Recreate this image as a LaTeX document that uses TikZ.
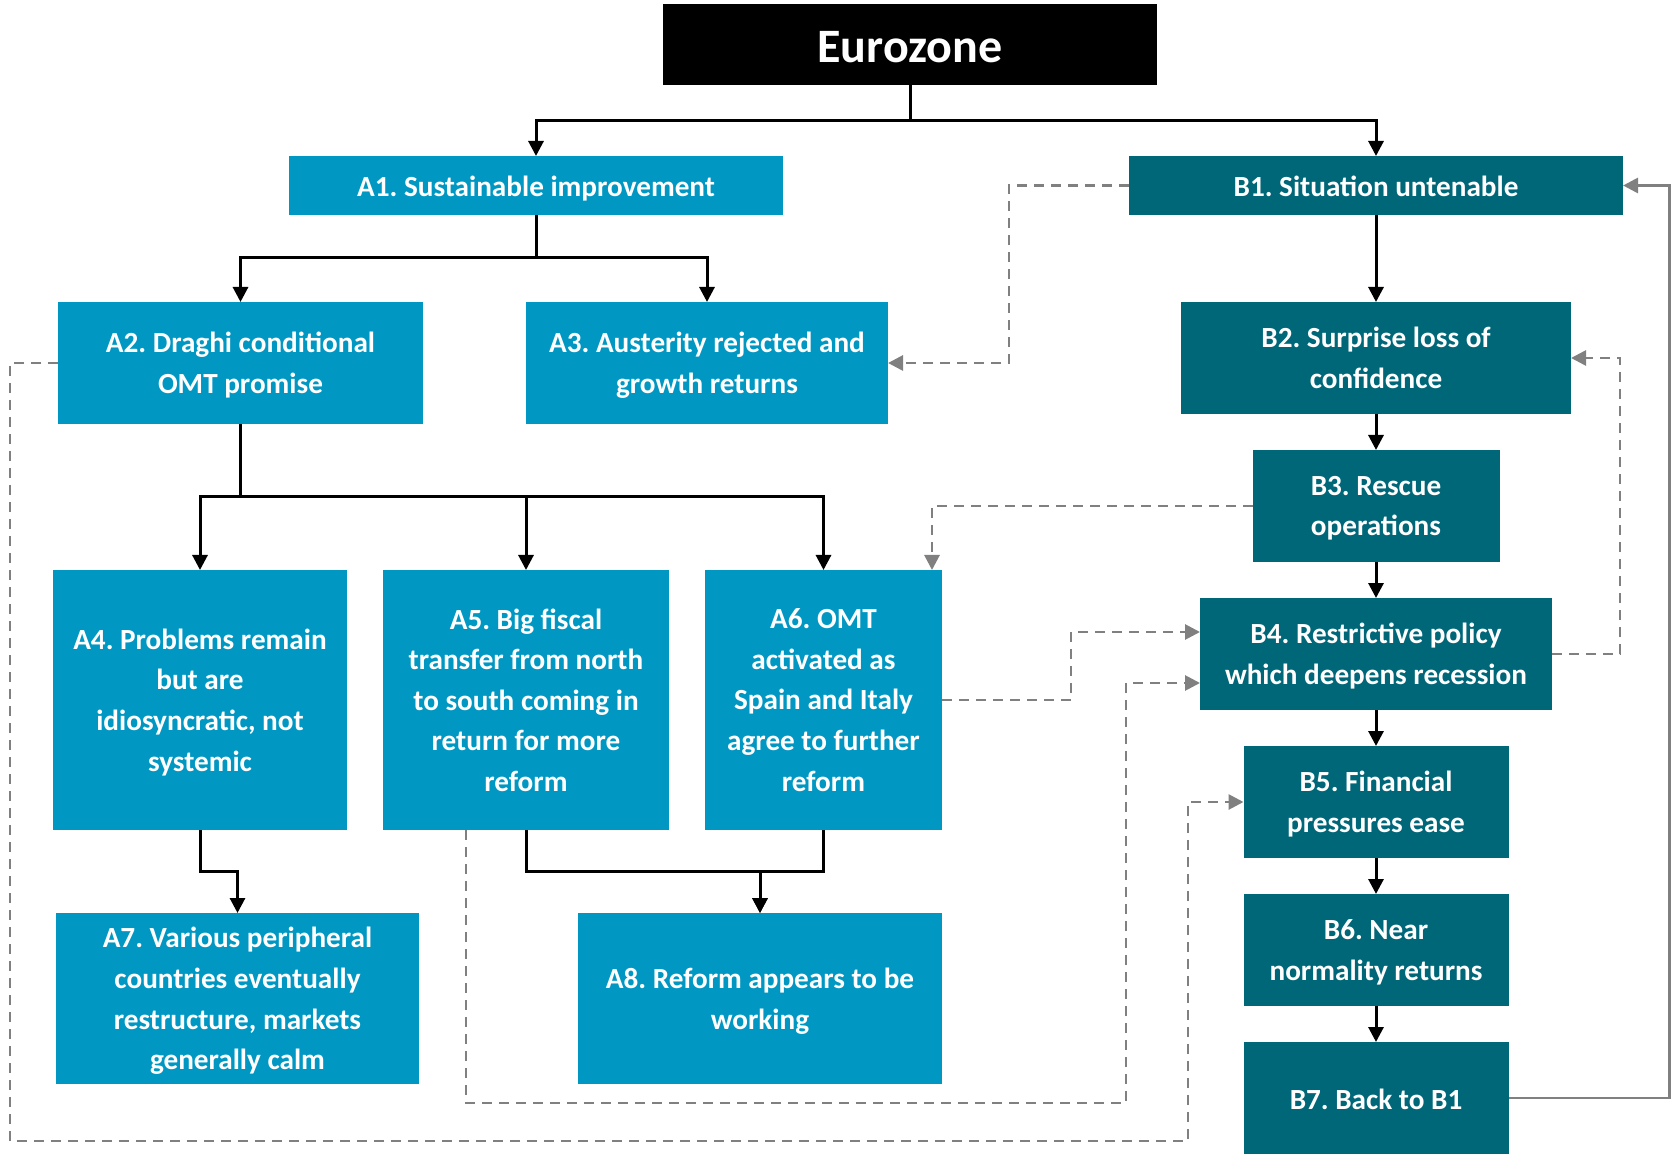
\documentclass[tikz,border=0pt]{standalone}
\usepackage{fontspec}
\setmainfont{Carlito}
\usepackage{xcolor}
\usetikzlibrary{arrows.meta,positioning}
\definecolor{improveblue}{RGB}{0,152,195}
\definecolor{crisisteal}{RGB}{0,103,120}

\begin{document}
\begin{tikzpicture}[
  x=0.5pt, y=-0.5pt,
  font=\bfseries\fontsize{14.6}{20.3}\selectfont\frenchspacing,
  node distance=18pt,
  box/.style={align=center, text=white, inner sep=2pt, outer sep=0pt, text depth=-3.5pt},
  single/.style={text height=14pt, text depth=3pt},
  title/.style={box, fill=black, font=\bfseries\fontsize{24}{28}\selectfont,
    text height=23pt, text depth=4.5pt},
  improve/.style={box, fill=improveblue},
  crisis/.style={box, fill=crisisteal},
  arrow/.style={-{Triangle[length=7.5pt,width=7.5pt]}, line width=1.5pt},
  link/.style={-{Triangle[length=7.5pt,width=7.5pt]}, gray, line width=1.4pt},
  feedback/.style={link, dash pattern=on 5pt off 3.5pt}
]
\useasboundingbox (0,0) rectangle (1675,1154);

\node[title, minimum width=247pt, minimum height=40.5pt] (euro) at (910,44.5) {Eurozone};
\node[improve, single, minimum width=247pt, minimum height=29.5pt] (A1) at (536,185.5) {A1. Sustainable improvement};
\node[crisis, single, minimum width=247pt, minimum height=29.5pt] (B1) at (1376,185.5) {B1. Situation untenable};
\node[improve, minimum width=182.5pt, minimum height=61pt] (A2) at (240.5,363) {A2. Draghi conditional\\OMT promise};
\node[improve, minimum width=181pt, minimum height=61pt] (A3) at (707,363) {A3. Austerity rejected and\\growth returns};
\node[improve, minimum width=147pt, minimum height=130pt] (A4) at (200,700) {A4. Problems remain\\but are\\idiosyncratic, not\\systemic};
\node[improve, minimum width=143pt, minimum height=130pt] (A5) at (526,700) {A5. Big fiscal\\transfer from north\\to south coming in\\return for more\\reform};
\node[improve, minimum width=118.5pt, minimum height=130pt] (A6) at (823.5,700) {A6. OMT\\activated as\\Spain and Italy\\agree to further\\reform};
\node[improve, minimum width=181.5pt, minimum height=85.5pt] (A7) at (237.5,998.5) {A7. Various peripheral\\countries eventually\\restructure, markets\\generally calm};
\node[improve, minimum width=182pt, minimum height=85.5pt] (A8) at (760,998.5) {A8. Reform appears to be\\working};

\node[crisis, minimum width=195pt, minimum height=56pt] (B2) at (1376,358) {B2. Surprise loss of\\confidence};
\node[crisis, minimum width=123.5pt, minimum height=56pt, below=of B2] (B3) {B3. Rescue\\operations};
\node[crisis, minimum width=176pt, minimum height=56pt, below=of B3] (B4) {B4. Restrictive policy\\which deepens recession};
\node[crisis, minimum width=132.5pt, minimum height=56pt, below=of B4] (B5) {B5. Financial\\pressures ease};
\node[crisis, minimum width=132.5pt, minimum height=56pt, below=of B5] (B6) {B6. Near\\normality returns};
\node[crisis, single, minimum width=132.5pt, minimum height=56pt, below=of B6] (B7) {B7. Back to B1};

\draw[arrow] (euro.south) -- ++(0,36) -| (A1.north);
\draw[arrow] (euro.south) -- ++(0,36) -| (B1.north);
\draw[arrow] (A1.south) -- ++(0,43) -| (A2.north);
\draw[arrow] (A1.south) -- ++(0,43) -| (A3.north);
\draw[arrow] (A2.south) -- ++(0,73) -| (A4.north);
\draw[arrow] (A2.south) -- ++(0,73) -| (A5.north);
\draw[arrow] (A2.south) -- ++(0,73) -| (A6.north);
\draw[arrow] (A4.south) -- ++(0,41) -| (A7.north);
\draw[arrow] (A5.south) -- ++(0,41) -| (A8.north);
\draw[arrow] (A6.south) -- ++(0,41) -| (A8.north);
\draw[arrow] (B1) -- (B2);
\draw[arrow] (B2) -- (B3);
\draw[arrow] (B3) -- (B4);
\draw[arrow] (B4) -- (B5);
\draw[arrow] (B5) -- (B6);
\draw[arrow] (B6) -- (B7);

\draw[feedback] (B1.west) -- ++(-120,0) |- (A3.east);
\draw[feedback] (B3.west) -| ([xshift=-5pt]A6.north east);
\draw[feedback] (A6.east) -- ++(129,0) |- ([yshift=11pt]B4.west);
\draw[feedback] ([xshift=-30pt]A5.south) |- (1126,1103) |- ([yshift=-14.5pt]B4.west);
\draw[feedback] (A2.west) -- ++(-48,0) |- (1188,1141) |- (B5.west);
\draw[feedback] (B4.east) -- ++(68,0) |- (B2.east);
\draw[link] (B7.east) -- ++(161,0) |- (B1.east);
\end{tikzpicture}
\end{document}
